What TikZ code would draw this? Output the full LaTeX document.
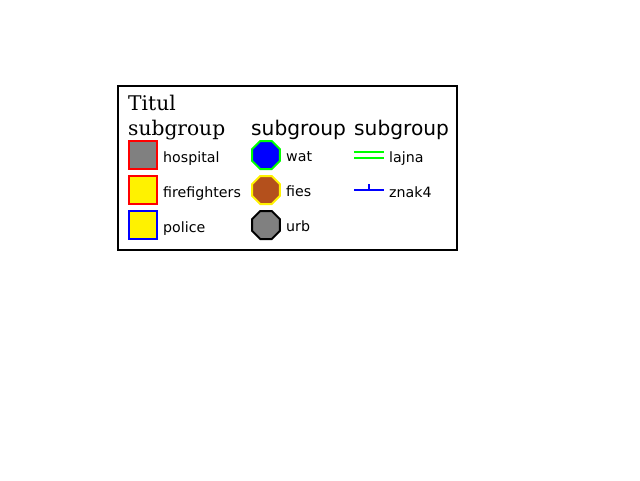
\documentclass[tikz,border=0pt]{standalone}
\usepackage{fontspec}
\setmainfont{DejaVu Serif}
\setsansfont{DejaVu Sans}
\usetikzlibrary{shapes.geometric, positioning}
\definecolor{lime}{RGB}{0,255,0}
\definecolor{rust}{RGB}{180,80,28}
\tikzset{
  legframe/.style = {draw, line width = 1.5pt},
  ttl/.style      = {inner sep = 0pt, anchor = base west, font = \fontsize{20.2}{24}\selectfont},
  grp/.style      = {inner sep = 0pt, anchor = base west, font = \sffamily\fontsize{20.2}{24}\selectfont},
  lbl/.style      = {inner sep = 0pt, anchor = base west, font = \sffamily\fontsize{14.2}{17}\selectfont},
  swatch/.style   = {rectangle, line width = 2pt, minimum size = 28pt, inner sep = 0pt},
  octa/.style     = {regular polygon, regular polygon sides = 8, line width = 2pt,
                     minimum size = 30.3pt, inner sep = 0pt},
  sym/.style      = {line width = 2pt}
}
\begin{document}
\begin{tikzpicture}[x=1pt, y=-1pt]
  \useasboundingbox (0,0) rectangle (640,480);

  % Legend frame
  \draw[legframe] (118,86) rectangle (457,250);

  % Titles
  \node[ttl] (titul) at (128,110.5) {Titul};
  \node[ttl] (grpa) at (128,135) {subgroup};
  \node[grp] (grpb) at (251,135) {subgroup};
  \node[grp] (grpc) at (354,135) {subgroup};

  % First subgroup: squares
  \foreach[count=\i] \farbe/\rand/\name in {
      gray/red/hospital,
      yellow/red/firefighters,
      yellow/blue/police
  } {
    \node[swatch, draw = \rand, fill = \farbe] (sq\i) at (143,120+35*\i) {};
    \node[lbl] (sqlbl\i) at (163,127+35*\i) {\name};
  }

  % Second subgroup: octagons
  \foreach[count=\i] \farbe/\rand/\name in {
      blue/lime/wat,
      rust/yellow/fies,
      gray/black/urb
  } {
    \node[octa, draw = \rand, fill = \farbe] (oct\i) at (266,120+35*\i) {};
    \node[lbl] (octlbl\i) at (286,126+35*\i) {\name};
  }

  % Third subgroup: lines
  \coordinate (la1) at (354,152);
  \coordinate (lb1) at (384,152);
  \coordinate (la2) at (354,158);
  \coordinate (lb2) at (384,158);
  \draw[sym, lime] (la1) -- (lb1);
  \draw[sym, lime] (la2) -- (lb2);
  \node[lbl] (lajna) at (389,162.5) {lajna};

  \coordinate (za) at (354,189.5);
  \coordinate (zb) at (384,189.5);
  \coordinate (zm) at (369,189.5);
  \coordinate (zt) at (369,183.5);
  \draw[sym, blue] (za) -- (zb);
  \draw[line width = 1.5pt, blue] (zm) -- (zt);
  \node[lbl] (znak) at (389,197) {znak4};
\end{tikzpicture}
\end{document}
